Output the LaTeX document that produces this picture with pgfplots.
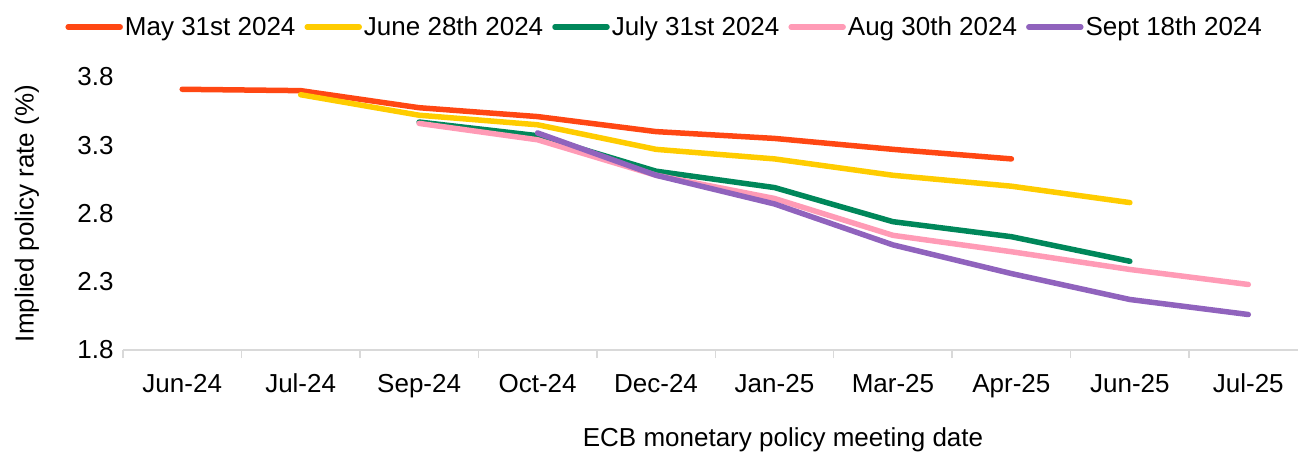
\documentclass[border=0pt]{standalone}
\usepackage{pgfplots}
\pgfplotsset{compat=1.18}
\usepackage{fontspec}
\setmainfont{Liberation Sans}
\definecolor{cRed}{HTML}{FF4713}
\definecolor{cYel}{HTML}{FFCC00}
\definecolor{cGrn}{HTML}{00875A}
\definecolor{cPnk}{HTML}{FF9BB6}
\definecolor{cPur}{HTML}{9063BD}
\definecolor{axgray}{HTML}{D9D9D9}
\begin{document}
\begin{tikzpicture}
\useasboundingbox (-123bp,-107bp) rectangle (1175bp,350bp);
\begin{axis}[
  scale only axis,
  width=1175bp, height=273bp,
  xmin=-0.5, xmax=9.42,
  ymin=1.8, ymax=3.8,
  clip=false,
  axis y line*=left,
  axis x line*=bottom,
  x axis line style={draw=axgray, line width=1.5bp},
  y axis line style={draw=none},
  xtick={0,...,9},
  xticklabels={Jun-24,Jul-24,Sep-24,Oct-24,Dec-24,Jan-25,Mar-25,Apr-25,Jun-25,Jul-25},
  minor xtick={-0.5,0.5,...,8.5},
  major tick length=0pt,
  minor tick length=8bp,
  tick align=outside,
  minor tick style={draw=axgray, line width=1.5bp},
  major tick style={draw=none},
  ytick={1.8,2.3,2.8,3.3,3.8},
  yticklabel style={/pgf/number format/.cd, fixed, fixed zerofill, precision=1, /tikz/.cd, xshift=-6bp},
  /pgf/number format/assume math mode=true,
  tick label style={font=\fontsize{26bp}{30bp}\selectfont, text=black},
  xticklabel style={anchor=base, yshift=-42bp},
  xlabel={ECB monetary policy meeting date},
  ylabel={Implied policy rate (\%)},
  every axis x label/.style={at={(axis description cs:0.5617,-0.33)}, anchor=center, font=\fontsize{26bp}{30bp}\selectfont},
  every axis y label/.style={at={(axis description cs:-0.0817,0.5)}, rotate=90, anchor=center, font=\fontsize{26bp}{30bp}\selectfont},
  every axis plot/.append style={line width=5.5bp, line cap=round, line join=round},
  legend columns=5,
  legend style={draw=none, fill=none, at={(0.461,1.183)}, anchor=center,
    font=\fontsize{26bp}{30bp}\selectfont,
    /tikz/every even column/.append style={column sep=7bp},
    nodes={inner xsep=2bp}},
  legend image code/.code={\draw[#1, line width=5.5bp, line cap=round] (0bp,0bp) -- (52bp,0bp);},
]
\addplot[cRed] coordinates {(0,3.71) (1,3.70) (2,3.575) (3,3.51) (4,3.40) (5,3.35) (6,3.27) (7,3.20)};
\addlegendentry{May 31st 2024}
\addplot[cYel] coordinates {(1,3.67) (2,3.52) (3,3.45) (4,3.27) (5,3.20) (6,3.08) (7,3.00) (8,2.88)};
\addlegendentry{June 28th 2024}
\addplot[cGrn] coordinates {(2,3.47) (3,3.37) (4,3.11) (5,2.99) (6,2.74) (7,2.63) (8,2.45)};
\addlegendentry{July 31st 2024}
\addplot[cPnk] coordinates {(2,3.46) (3,3.34) (4,3.08) (5,2.91) (6,2.64) (7,2.52) (8,2.39) (9,2.28)};
\addlegendentry{Aug 30th 2024}
\addplot[cPur] coordinates {(3,3.39) (4,3.08) (5,2.87) (6,2.57) (7,2.36) (8,2.17) (9,2.06)};
\addlegendentry{Sept 18th 2024}
\end{axis}
\end{tikzpicture}
\end{document}
